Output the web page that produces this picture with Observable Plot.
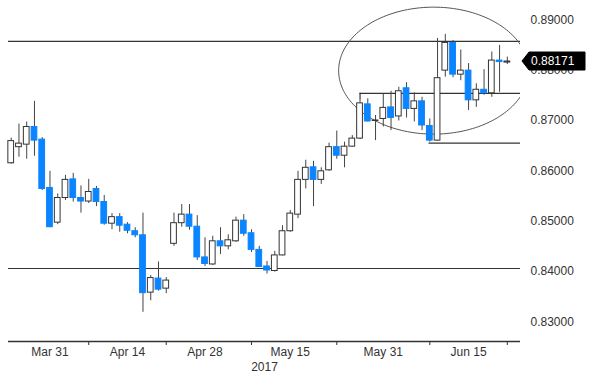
<!DOCTYPE html>
<html><head><meta charset="utf-8">
<script src="https://cdn.jsdelivr.net/npm/d3@7"></script>
<script src="https://cdn.jsdelivr.net/npm/@observablehq/plot@0.6"></script>
<style>html,body{margin:0;padding:0;background:#fff}#chart svg{display:block}</style>
</head><body><div id="chart"></div>
<script>
// Daily OHLC, 24 Mar 2017 - 22 Jun 2017 (weekdays)
const openP  = [.8615,.8647,.8652,.8687,.8662,.8566,.8497,.8546,.8583,.8546,
                .8539,.8564,.8538,.8495,.8508,.8493,.8480,.8472,.8358,.8386,
                .8366,.8455,.8496,.8513,.8489,.8428,.8414,.8460,.8450,.8460,
                .8501,.8476,.8443,.8410,.8401,.8432,.8480,.8513,.8582,.8607,
                .8582,.8601,.8647,.8630,.8648,.8664,.8732,.8699,.8703,.8726,
                .8708,.8764,.8723,.8738,.8689,.8660,.8799,.8854,.8791,.8799,
                .8740,.8761,.8754,.8819,.8815];
const highP  = [.8665,.8693,.8697,.8738,.8666,.8599,.8554,.8591,.8595,.8570,
                .8583,.8569,.8551,.8515,.8515,.8497,.8487,.8516,.8392,.8419,
                .8388,.8516,.8533,.8533,.8511,.8467,.8470,.8487,.8473,.8508,
                .8513,.8483,.8450,.8420,.8440,.8491,.8521,.8599,.8621,.8619,
                .8606,.8655,.8679,.8657,.8670,.8740,.8743,.8710,.8752,.8758,
                .8766,.8775,.8755,.8746,.8703,.8863,.8871,.8859,.8840,.8813,
                .8773,.8801,.8836,.8849,.8826];
const lowP   = [.8613,.8627,.8623,.8629,.8561,.8487,.8493,.8541,.8538,.8516,
                .8535,.8529,.8492,.8483,.8478,.8475,.8467,.8319,.8342,.8361,
                .8356,.8450,.8488,.8482,.8422,.8410,.8412,.8434,.8443,.8458,
                .8470,.8438,.8408,.8395,.8399,.8431,.8478,.8505,.8564,.8529,
                .8573,.8599,.8623,.8606,.8647,.8662,.8697,.8660,.8687,.8680,
                .8699,.8705,.8697,.8680,.8657,.8659,.8786,.8785,.8779,.8720,
                .8726,.8750,.8746,.8756,.8811];
const closeP = [.8659,.8654,.8687,.8660,.8564,.8488,.8546,.8582,.8546,.8539,
                .8558,.8538,.8495,.8508,.8491,.8481,.8472,.8357,.8387,.8364,
                .8382,.8496,.8513,.8489,.8428,.8415,.8460,.8450,.8462,.8501,
                .8475,.8443,.8409,.8402,.8432,.8480,.8515,.8582,.8606,.8582,
                .8599,.8647,.8630,.8648,.8664,.8734,.8698,.8700,.8725,.8705,
                .8758,.8723,.8738,.8690,.8660,.8784,.8854,.8791,.8799,.8740,
                .8761,.8754,.8819,.8816,.88171];

const labelDates = ["2017-03-31","2017-04-14","2017-04-28","2017-05-15","2017-05-31","2017-06-15"];
const labelText  = ["Mar 31","Apr 14","Apr 28","May 15","May 31","Jun 15"];
const sepDates   = ["2017-04-07","2017-04-21","2017-05-08","2017-05-23","2017-06-08","2017-06-22"];
const yTicks     = [0.83,0.84,0.85,0.86,0.87,0.88,0.89];
const yearLabel  = "2017";

// annotation levels
const resistance = 0.8857;
const support    = 0.8406;
const rangeTop   = 0.8754, rangeTopFrom = "2017-05-26", rangeTopStub = 0.8740;
const rangeBot   = 0.8655, rangeBotFrom = "2017-06-08";
const lastPrice  = closeP[closeP.length - 1];
// ellipse: centre (date index, price), radii (days, price)
const ellCenter = [54.5, 0.8799];
const ellRadius = [12.26, 0.01261];

const dates = d3.utcDay.range(new Date(Date.UTC(2017,2,24)), new Date(Date.UTC(2017,5,23)))
  .filter(d => d.getUTCDay() % 6 !== 0);
const iso = d3.utcFormat("%Y-%m-%d");
const idxOf = s => dates.findIndex(d => iso(d) === s);
const candles = dates.map((d, i) => ({i, date: d, open: openP[i], high: highP[i], low: lowP[i], close: closeP[i],
  up: closeP[i] >= openP[i]}));
const labelIdx = labelDates.map(idxOf);
const sepIdx = sepDates.map(idxOf);

const xDomain = [-0.35, 65.7];
const yDomain = [0.8261, 0.89383];
const ellipse = d3.range(0, 361, 2).map(a => ({
  x: ellCenter[0] + ellRadius[0] * Math.cos(a * Math.PI / 180),
  y: ellCenter[1] + ellRadius[1] * Math.sin(a * Math.PI / 180)
}));

const BLUE = "#0a84ff", INK = "#333";
const hw = 0.37;

const chart = Plot.plot({
  width: 600, height: 382,
  marginLeft: 8, marginRight: 80, marginTop: 0, marginBottom: 41,
  x: {domain: xDomain},
  y: {domain: yDomain},
  style: {fontFamily: "Liberation Sans, Arial, sans-serif", fontSize: "12px", color: "#333", background: "#fff"},
  marks: [
    Plot.ruleY([resistance], {stroke: INK, strokeWidth: 1.2}),
    Plot.ruleY([support], {stroke: INK, strokeWidth: 1.2}),
    Plot.ruleY([rangeTop], {x1: idxOf(rangeTopFrom), x2: xDomain[1], stroke: INK, strokeWidth: 1.2}),
    Plot.ruleX([idxOf(rangeTopFrom)], {y1: rangeTop, y2: rangeTopStub, stroke: INK, strokeWidth: 1.2}),
    Plot.ruleY([rangeBot], {x1: idxOf(rangeBotFrom) - 0.1, x2: xDomain[1], stroke: INK, strokeWidth: 1.2}),
    Plot.line(ellipse, {x: "x", y: "y", stroke: "#555", strokeWidth: 1, curve: "linear", clip: true}),
    Plot.ruleX(candles, {x: "i", y1: "low", y2: "high", stroke: "#444", strokeWidth: 1}),
    Plot.rect(candles, {x1: d => d.i - hw, x2: d => d.i + hw,
      y1: d => Math.min(d.open, d.close), y2: d => Math.max(d.open, d.close),
      fill: d => d.up ? "#fff" : BLUE, stroke: d => d.up ? "#333" : BLUE, strokeWidth: 1}),
    Plot.ruleY([yDomain[0]], {stroke: INK, strokeWidth: 1.3}),
    Plot.axisX({ticks: sepIdx, tickFormat: () => "", tickSize: 4, label: null, stroke: INK}),
    Plot.axisX({ticks: labelIdx, tickFormat: d => labelText[labelIdx.indexOf(d)], tickSize: 0, tickPadding: 6, label: null, fill: "#333"}),
    Plot.text([yearLabel], {frameAnchor: "bottom", dy: 29, text: d => d, fill: "#333", fontSize: 12}),
    Plot.axisY({anchor: "right", ticks: yTicks, tickFormat: d3.format(".5f"), tickSize: 0, tickPadding: 10, label: null, fill: "#333"}),
    (index, scales, values, dims) => {
      const y = scales.y(lastPrice);
      const x0 = dims.width - dims.marginRight + 2;
      const g = d3.create("svg:g");
      g.append("path")
        .attr("d", `M${x0},${y} L${x0+7},${y-9} H${x0+63} V${y+9} H${x0+7} Z`)
        .attr("fill", "#000").attr("stroke", "#000").attr("stroke-linejoin", "round");
      g.append("text").attr("x", x0 + 9).attr("y", y).attr("dy", "0.35em")
        .attr("text-anchor", "start")
        .attr("fill", "#fff").attr("font-size", 12)
        .attr("font-family", "Liberation Sans, Arial, sans-serif")
        .text(d3.format(".5f")(lastPrice));
      return g.node();
    }
  ]
});
document.getElementById("chart").append(chart);
</script></body></html>
